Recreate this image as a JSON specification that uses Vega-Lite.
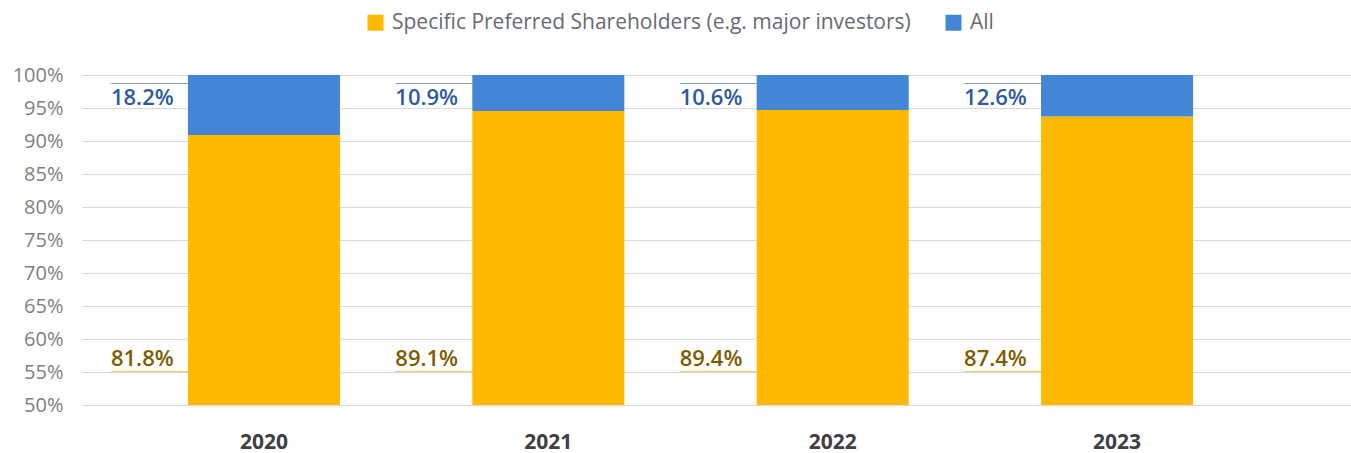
{
  "$schema": "https://vega.github.io/schema/vega-lite/v6.json",
  "width": 1269,
  "height": 330,
  "autosize": {"type": "none"},
  "padding": {"left": 82, "top": 75, "right": 0, "bottom": 48},
  "config": {"view": {"stroke": null}, "font": "Open Sans"},
  "data": {
    "values": [
      {"year": "2020", "series": "Specific Preferred Shareholders (e.g. major investors)", "share": 0.818},
      {"year": "2020", "series": "All", "share": 0.182},
      {"year": "2021", "series": "Specific Preferred Shareholders (e.g. major investors)", "share": 0.891},
      {"year": "2021", "series": "All", "share": 0.109},
      {"year": "2022", "series": "Specific Preferred Shareholders (e.g. major investors)", "share": 0.894},
      {"year": "2022", "series": "All", "share": 0.106},
      {"year": "2023", "series": "Specific Preferred Shareholders (e.g. major investors)", "share": 0.874},
      {"year": "2023", "series": "All", "share": 0.126}
    ]
  },
  "encoding": {
    "x": {
      "field": "year",
      "type": "nominal",
      "scale": {"paddingInner": 0.4654, "paddingOuter": 0.464, "align": 0.4015},
      "axis": {
        "title": null,
        "labelAngle": 0,
        "domain": false,
        "ticks": false,
        "labelFontSize": 21,
        "labelFontWeight": "bold",
        "labelColor": "#404040",
        "labelPadding": 26
      }
    }
  },
  "layer": [
    {
      "mark": {"type": "bar"},
      "encoding": {
        "y": {
          "field": "share",
          "type": "quantitative",
          "stack": "zero",
          "scale": {"domain": [0, 1], "nice": false},
          "axis": {
            "title": null,
            "values": [0, 0.1, 0.2, 0.3, 0.4, 0.5, 0.6, 0.7, 0.8, 0.9, 1],
            "tickCount": 11,
            "labelOverlap": false,
            "labelExpr": "format(0.5 + datum.value / 2, '.0%')",
            "grid": true,
            "gridColor": "#D9D9D9",
            "gridWidth": 1,
            "domain": false,
            "ticks": false,
            "labelPadding": 19,
            "labelFontSize": 20,
            "labelColor": "#7F7F7F"
          }
        },
        "color": {
          "field": "series",
          "type": "nominal",
          "scale": {
            "domain": ["Specific Preferred Shareholders (e.g. major investors)", "All"],
            "range": ["#FFB900", "#4486D6"]
          },
          "legend": {
            "title": null,
            "orient": "none",
            "direction": "horizontal",
            "legendX": 283,
            "legendY": -63,
            "padding": 0,
            "symbolType": "square",
            "symbolSize": 256,
            "symbolStrokeWidth": 0,
            "labelFontSize": 21,
            "labelColor": "#676B72",
            "labelOffset": 6,
            "columnPadding": 32,
            "labelLimit": 800
          }
        },
        "order": {"field": "series", "sort": "descending"}
      }
    },
    {
      "transform": [{"filter": "datum.series === 'All'"}],
      "mark": {"type": "tick", "orient": "horizontal", "size": 77, "thickness": 1, "xOffset": -114.5, "yOffset": 8.5, "color": "#4A7CC4"},
      "encoding": {"y": {"datum": 1, "type": "quantitative"}}
    },
    {
      "transform": [{"filter": "datum.series === 'All'"}],
      "mark": {"type": "text", "align": "left", "baseline": "alphabetic", "dx": -153, "dy": 30, "fontSize": 22, "fontWeight": 600, "color": "#2E5B9A"},
      "encoding": {
        "y": {"datum": 1, "type": "quantitative"},
        "text": {"field": "share", "type": "quantitative", "format": ".1%"}
      }
    },
    {
      "transform": [{"filter": "datum.series !== 'All'"}],
      "mark": {"type": "tick", "orient": "horizontal", "size": 77, "thickness": 1, "xOffset": -114.5, "yOffset": -33.5, "color": "#F2B21C"},
      "encoding": {"y": {"datum": 0, "type": "quantitative"}}
    },
    {
      "transform": [{"filter": "datum.series !== 'All'"}],
      "mark": {"type": "text", "align": "left", "baseline": "alphabetic", "dx": -153, "dy": -39, "fontSize": 22, "fontWeight": 600, "color": "#7F5C00"},
      "encoding": {
        "y": {"datum": 0, "type": "quantitative"},
        "text": {"field": "share", "type": "quantitative", "format": ".1%"}
      }
    }
  ]
}
